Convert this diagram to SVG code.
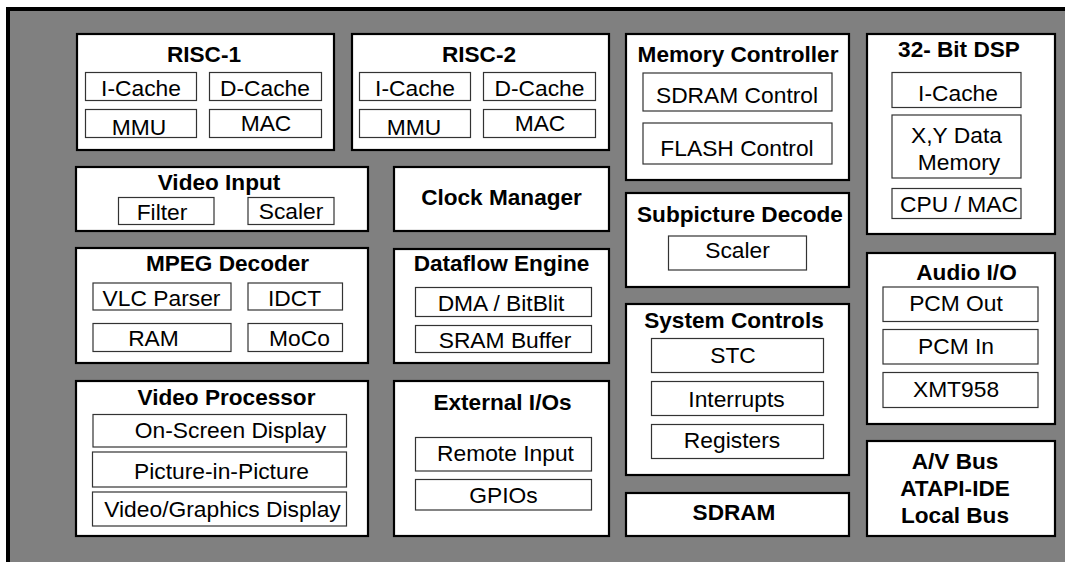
<svg xmlns="http://www.w3.org/2000/svg" width="1065" height="562" viewBox="0 0 1065 562">
<style>
.bg{fill:#808080;stroke:#000;stroke-width:4}
.box{fill:#fff;stroke:#000;stroke-width:2.2}
.sub{fill:#fff;stroke:#333;stroke-width:1.2}
text{font-family:"Liberation Sans",Arial,sans-serif;font-size:22.8px;fill:#000;text-anchor:middle}
.t{font-weight:bold;font-size:22.6px}
</style>
<rect x="0" y="0" width="1065" height="562" fill="#fff"/>
<rect class="bg" x="8" y="9" width="1100" height="600"/>
<g id="connectors"/>
<g id="risc1">
<rect class="box" x="77" y="34" width="257" height="116"/>
<text class="t" x="204" y="62">RISC-1</text>
<rect class="sub" x="85.5" y="72.5" width="111" height="28"/>
<rect class="sub" x="209.5" y="72.5" width="112" height="28"/>
<rect class="sub" x="85.5" y="109.5" width="111" height="28"/>
<rect class="sub" x="209.5" y="109.5" width="112" height="28"/>
<text x="141" y="96">I-Cache</text>
<text x="265" y="96">D-Cache</text>
<text x="139" y="135">MMU</text>
<text x="266" y="131">MAC</text>
</g>
<g id="risc2">
<rect class="box" x="352" y="34" width="257" height="116"/>
<text class="t" x="479" y="62">RISC-2</text>
<rect class="sub" x="359.5" y="72.5" width="111" height="28"/>
<rect class="sub" x="483.5" y="72.5" width="112" height="28"/>
<rect class="sub" x="359.5" y="109.5" width="111" height="28"/>
<rect class="sub" x="483.5" y="109.5" width="112" height="28"/>
<text x="415" y="96">I-Cache</text>
<text x="539.5" y="96">D-Cache</text>
<text x="414" y="135">MMU</text>
<text x="540" y="131">MAC</text>
</g>
<g id="memctrl">
<rect class="box" x="626" y="34" width="223" height="146"/>
<text class="t" x="738" y="62">Memory Controller</text>
<rect class="sub" x="643" y="73" width="189" height="38"/>
<rect class="sub" x="643" y="123" width="189" height="41"/>
<text x="737" y="103">SDRAM Control</text>
<text x="737" y="156">FLASH Control</text>
</g>
<g id="dsp">
<rect class="box" x="867" y="34" width="188" height="200"/>
<text class="t" x="959" y="56.5">32- Bit DSP</text>
<rect class="sub" x="892" y="72.5" width="129" height="35"/>
<rect class="sub" x="892" y="115" width="129" height="63"/>
<rect class="sub" x="892" y="188.5" width="129" height="30"/>
<text x="958" y="101">I-Cache</text>
<text x="956.5" y="143">X,Y Data</text>
<text x="959" y="170">Memory</text>
<text x="959" y="211.5">CPU / MAC</text>
</g>
<g id="videoinput">
<rect class="box" x="76" y="167" width="292" height="64"/>
<text class="t" x="219" y="190">Video Input</text>
<rect class="sub" x="118.5" y="197.5" width="95.5" height="27"/>
<rect class="sub" x="248" y="197.5" width="86" height="27"/>
<text x="162" y="220">Filter</text>
<text x="291" y="219">Scaler</text>
</g>
<g id="clock">
<rect class="box" x="394" y="167" width="215" height="64"/>
<text class="t" x="501.5" y="205">Clock Manager</text>
</g>
<g id="subpicture">
<rect class="box" x="626" y="193" width="223" height="94"/>
<text class="t" x="740" y="221.5">Subpicture Decode</text>
<rect class="sub" x="668.5" y="236" width="138" height="34"/>
<text x="737.5" y="258">Scaler</text>
</g>
<g id="mpeg">
<rect class="box" x="76" y="248" width="292" height="115"/>
<text class="t" x="227.5" y="270.5">MPEG Decoder</text>
<rect class="sub" x="93" y="283" width="138" height="27"/>
<rect class="sub" x="248" y="283" width="94.5" height="27"/>
<rect class="sub" x="93" y="323.5" width="138" height="28"/>
<rect class="sub" x="248" y="323.5" width="94.5" height="28"/>
<text x="161.5" y="305.5">VLC Parser</text>
<text x="294.5" y="305.5">IDCT</text>
<text x="153.5" y="345.5">RAM</text>
<text x="299.5" y="345.5">MoCo</text>
</g>
<g id="dataflow">
<rect class="box" x="394" y="249" width="215" height="114"/>
<text class="t" x="501.5" y="271">Dataflow Engine</text>
<rect class="sub" x="415.5" y="287.5" width="176" height="29"/>
<rect class="sub" x="415.5" y="325.5" width="176" height="27"/>
<text x="501" y="310.5">DMA / BitBlit</text>
<text x="505" y="347.5">SRAM Buffer</text>
</g>
<g id="audio">
<rect class="box" x="867" y="253" width="188" height="171"/>
<text class="t" x="966.5" y="280">Audio I/O</text>
<rect class="sub" x="883" y="287" width="155" height="34.5"/>
<rect class="sub" x="883" y="329.5" width="155" height="34.5"/>
<rect class="sub" x="883" y="372.5" width="155" height="35"/>
<text x="956" y="310.5">PCM Out</text>
<text x="956" y="354">PCM In</text>
<text x="956" y="396.5">XMT958</text>
</g>
<g id="sysctrl">
<rect class="box" x="626" y="304" width="223" height="171"/>
<text class="t" x="734" y="328">System Controls</text>
<rect class="sub" x="651.5" y="338.5" width="172" height="34"/>
<rect class="sub" x="651.5" y="381.5" width="172" height="34"/>
<rect class="sub" x="651.5" y="424.5" width="172" height="34"/>
<text x="733" y="363">STC</text>
<text x="736.5" y="406.5">Interrupts</text>
<text x="732" y="447.5">Registers</text>
</g>
<g id="videoproc">
<rect class="box" x="76" y="381" width="292" height="155"/>
<text class="t" x="226.5" y="405">Video Processor</text>
<rect class="sub" x="93" y="414.5" width="253.5" height="32.5"/>
<rect class="sub" x="92.5" y="452" width="254" height="35"/>
<rect class="sub" x="92.5" y="492" width="254" height="34"/>
<text x="230.5" y="438">On-Screen Display</text>
<text x="221.5" y="479">Picture-in-Picture</text>
<text x="222.5" y="516.5">Video/Graphics Display</text>
</g>
<g id="extio">
<rect class="box" x="394" y="381" width="215" height="155"/>
<text class="t" x="502.5" y="410">External I/Os</text>
<rect class="sub" x="415.5" y="437.5" width="176" height="33.5"/>
<rect class="sub" x="415.5" y="479.5" width="176" height="30.5"/>
<text x="505.5" y="460.5">Remote Input</text>
<text x="503.5" y="502.5">GPIOs</text>
</g>
<g id="sdram">
<rect class="box" x="626" y="493" width="223" height="43"/>
<text class="t" x="734" y="520">SDRAM</text>
</g>
<g id="bus">
<rect class="box" x="867" y="441" width="188" height="95"/>
<text class="t" x="955" y="469">A/V Bus</text>
<text class="t" x="955" y="496">ATAPI-IDE</text>
<text class="t" x="955" y="523">Local Bus</text>
</g>
</svg>
